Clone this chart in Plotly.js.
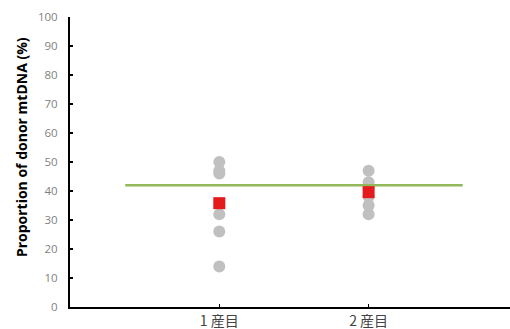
<!DOCTYPE html>
<html>
<head>
<meta charset="utf-8">
<script src="https://cdn.plot.ly/plotly-3.0.1.min.js"></script>
<style>html,body{margin:0;padding:0;background:#fff;}#chart{width:510px;height:329px;}</style>
</head>
<body>
<div id="chart"></div>
<script>
const categories = [1, 2];
const tickLabels = ["1 産目", "2 産目"];
const group1Values = [50, 47, 46, 32, 26, 14];
const group2Values = [47, 43, 41, 38, 35, 32];
const meanValues = [35.8, 39.6];
const refLineX = [0.37, 2.63];
const refLineY = [42, 42];
const yTitle = 'Proportion of donor mtDNA (%)';

const traces = [
  {
    x: group1Values.map(() => categories[0]).concat(group2Values.map(() => categories[1])),
    y: group1Values.concat(group2Values),
    type: 'scatter', mode: 'markers',
    marker: {symbol: 'circle', size: 12, color: '#c0c0c0'},
    hoverinfo: 'y'
  },
  {
    x: refLineX, y: refLineY,
    type: 'scatter', mode: 'lines',
    line: {color: '#92b85a', width: 2.5},
    hoverinfo: 'y'
  },
  {
    x: categories, y: meanValues,
    type: 'scatter', mode: 'markers',
    marker: {symbol: 'square', size: 12, color: '#e41a1c'},
    hoverinfo: 'y'
  }
];

const layout = {
  width: 510, height: 329,
  margin: {l: 70, r: 0, t: 17, b: 22},
  showlegend: false,
  paper_bgcolor: '#fff', plot_bgcolor: '#fff',
  font: {family: 'Noto Sans, sans-serif'},
  xaxis: {
    range: [0, 2.947],
    tickvals: categories, ticktext: tickLabels,
    ticks: 'inside', ticklen: 3, tickwidth: 1.5, tickcolor: '#000',
    showline: true, linecolor: '#000', linewidth: 2,
    showgrid: false, zeroline: false,
    tickfont: {family: 'Noto Sans CJK JP, sans-serif', size: 14, color: '#444'}
  },
  yaxis: {
    range: [0, 100], dtick: 10,
    ticks: 'inside', ticklen: 3, tickwidth: 1.5, tickcolor: '#000',
    showline: true, linecolor: '#000', linewidth: 2,
    showgrid: false, zeroline: false,
    ticklabelstandoff: 8,
    tickfont: {family: 'Open Sans, sans-serif', size: 11.5, color: '#7f7f7f'}
  },
  annotations: [{
    text: yTitle, textangle: -90,
    xref: 'paper', yref: 'paper', x: -0.11, y: 0.55,
    xanchor: 'center', yanchor: 'middle', showarrow: false,
    font: {family: 'Open Sans, sans-serif', size: 14, color: '#000', weight: 'bold'}
  }]
};

Plotly.newPlot('chart', traces, layout, {displayModeBar: false, staticPlot: true});
</script>
</body>
</html>
